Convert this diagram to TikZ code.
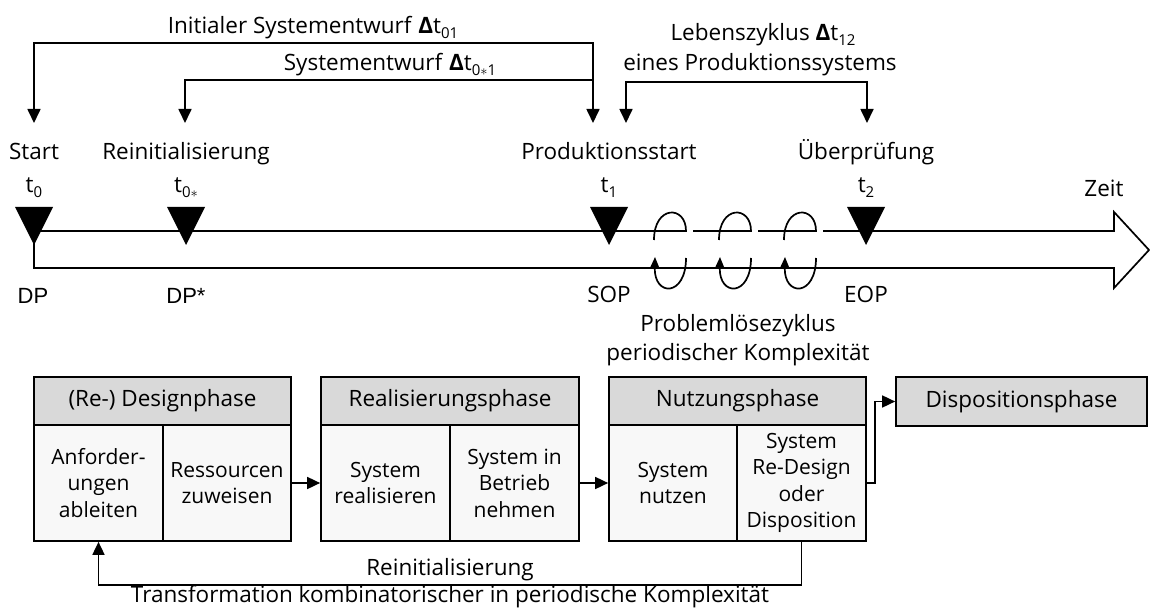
\documentclass[tikz,border=0pt]{standalone}
\usepackage{fontspec}
\usepackage{graphicx}
\setmainfont{Open Sans}
\newfontfamily\arialfont{Liberation Sans}
\usetikzlibrary{arrows.meta}

\definecolor{hdrgray}{HTML}{D9D9D9}
\definecolor{cellgray}{HTML}{F8F8F8}

% lowered index, e.g. t_0
\newcommand\ix[1]{\raisebox{-0.22em}{\fontsize{15}{15}\selectfont #1}}

\begin{document}
\begin{tikzpicture}[x=1pt,y=-1pt,
  font=\fontsize{22.5}{26.5}\selectfont,
  line width=1.7pt,
  lbl/.style={anchor=base,inner sep=0pt},
  dplbl/.style={anchor=base,inner sep=0pt,font=\arialfont\fontsize{22}{26}\selectfont},
  bigtip/.style={-{Triangle[width=13pt,length=14pt]}},
  bothtips/.style={{Triangle[width=13pt,length=14pt]}-{Triangle[width=13pt,length=14pt]}},
  looptip/.style={-{Triangle[width=9pt,length=11pt]}},
  boxarrow/.style={-{Triangle[width=12pt,length=13pt]}},
  hdr/.style={draw,fill=hdrgray,minimum height=48pt,inner sep=0pt},
  cellbox/.style={draw,fill=cellgray,minimum height=116pt,align=center,inner sep=0pt,
                  font=\fontsize{21}{26.5}\selectfont},
]
\useasboundingbox (0,0) rectangle (1150,612);

% ---- interval brackets above the time axis
\coordinate (a0)  at (34,123);
\coordinate (a0s) at (185,123);
\coordinate (a1)  at (593,123);
\coordinate (a1r) at (626,123);
\coordinate (a2)  at (867,123);

\draw[bothtips] (a0) |- (593,43) -- (a1);
\draw[bigtip] (593,80) -- (185,80) -- (a0s);
\draw[bothtips] (a1r) |- (867,82) -- (a2);

\node[lbl] (lInit) at (313,34) {Initialer Systementwurf \textbf{Δ}t\ix{01}};
\node[lbl] (lSys)  at (390,71) {Systementwurf \textbf{Δ}t\ix{0$\ast$1}};
\node[lbl] (lLeb)  at (763,41) {Lebenszyklus \textbf{Δ}t\ix{12}};
\node[lbl] (lEin)  at (760,71) {eines Produktionssystems};

% ---- milestone labels
\node[lbl] (nStart) at (34,160)  {Start};
\node[lbl] (nT0)    at (34,193)  {t\ix{0}};
\node[lbl] (nReini) at (186,160) {Reinitialisierung};
\node[lbl] (nT0s)   at (186,193) {t\ix{0$\ast$}};
\node[lbl] (nProd)  at (609,160) {Produktionsstart};
\node[lbl] (nT1)    at (609,193) {t\ix{1}};
\node[lbl] (nUeber) at (866,160) {Überprüfung};
\node[lbl] (nT2)    at (866,193) {t\ix{2}};
\node[lbl] (nZeit)  at (1104,197) {Zeit};

% ---- time axis as a block arrow
\draw (34,231) -- (1114,231) -- (1114,212) -- (1149,250) -- (1114,288)
      -- (1114,268) -- (34,268) -- (34,240);

% problem-solving loops wound round the axis
\foreach \cx in {670,735,800}{
  \fill[white] (\cx+17,228) rectangle (\cx+23,234);
  \draw (\cx-16,240) .. controls (\cx-16,205) and (\cx+16,205) .. (\cx+16,231);
  \draw[looptip] (\cx+16,258) .. controls (\cx+16,297) and (\cx-16,297) .. (\cx-15,257);
}

% milestone markers
\foreach \mx in {34,186,609,866}{
  \fill (\mx-19,207) -- (\mx+19,207) -- (\mx,245) -- cycle;
}

\node[dplbl] (dp)  at (33,303)  {DP};
\node[dplbl] (dps) at (186,303) {DP*};
\node[lbl] (sop) at (609,302) {SOP};
\node[lbl] (eop) at (866,302) {EOP};
\node[lbl] (prob) at (738,331) {Problemlösezyklus};
\node[lbl] (peri) at (738,360) {periodischer Komplexität};

% ---- phases
\node[hdr,minimum width=257pt] (h1) at (162.5,401) {(Re-) Designphase};
\node[hdr,minimum width=258pt] (h2) at (450,401)   {Realisierungsphase};
\node[hdr,minimum width=257pt] (h3) at (737.5,401) {Nutzungsphase};
\node[hdr,minimum width=251pt,minimum height=49pt] (h4) at (1021.5,401.5) {Dispositionsphase};

\node[cellbox,minimum width=129pt] (c1a) at (98.5,483)  {Anforder-\\ungen\\ableiten};
\node[cellbox,minimum width=128pt] (c1b) at (227,483)   {Ressourcen\\zuweisen};
\node[cellbox,minimum width=129pt] (c2a) at (385.5,483) {System\\realisieren};
\node[cellbox,minimum width=129pt] (c2b) at (514.5,483) {System in\\Betrieb\\nehmen};
\node[cellbox,minimum width=128pt] (c3a) at (673,483)   {System\\nutzen};
\node[cellbox,minimum width=129pt] (c3b) at (801.5,483) {System\\Re-Design\\oder\\Disposition};

\draw[boxarrow] (c1b.east) -- (c2a.west);
\draw[boxarrow] (c2b.east) -- (c3a.west);
\draw[boxarrow] (c3b.east) -- ++(8,0) |- (h4.west);
\draw[boxarrow] (c3b.south) -- ++(0,43) -| (c1a.south);

\node[lbl] (reinit) at (450,575) {Reinitialisierung};
\node[lbl] (trans)  at (450,602) {Transformation kombinatorischer in periodische Komplexität};
\end{tikzpicture}
\end{document}
